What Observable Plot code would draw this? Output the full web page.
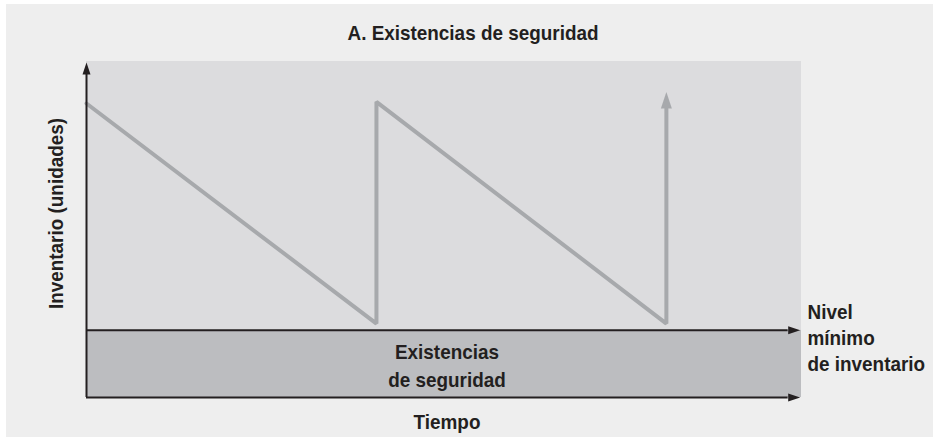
<!DOCTYPE html>
<html><head><meta charset="utf-8">
<script src="https://cdn.jsdelivr.net/npm/d3@7"></script>
<script src="https://cdn.jsdelivr.net/npm/@observablehq/plot@0.6"></script>
<style>
html,body{margin:0;padding:0;background:#fff;}
#bg{position:absolute;left:6px;top:4px;width:927px;height:433px;background:#eeeeee;}
#chart{position:absolute;left:0;top:0;}
</style></head><body><div id="bg"></div><div id="chart"></div>
<script>
// Texts
const title = "A. Existencias de seguridad";
const yLabel = "Inventario (unidades)";
const xLabel = "Tiempo";
const bandLabel = "Existencias\nde seguridad";
const levelLabel = "Nivel\nmínimo\nde inventario";

// Scales (conceptual units)
const timeDomain = [0, 2.466];
const inventoryDomain = [0, 100];
const safetyStock = 20;

// Sawtooth inventory series
const sawTime = [0, 1, 1, 2, 2];
const sawInventory = [87.5, 22, 88, 22, 86];

// Axis extents (arrow bases)
const axisTimeEnd = 2.42;
const axisInventoryEnd = 96.1;

const saw = sawTime.map((t, i) => ({t, v: sawInventory[i]}));
const regions = [
  {x1: timeDomain[0], x2: timeDomain[1], y1: safetyStock, y2: inventoryDomain[1], fill: "#dcdcde"},
  {x1: timeDomain[0], x2: timeDomain[1], y1: 0, y2: safetyStock, fill: "#bcbdc0"}
];
const axisHeads = [
  {t: axisTimeEnd, v: safetyStock, rot: 90},
  {t: axisTimeEnd, v: 0, rot: 90},
  {t: 0, v: axisInventoryEnd, rot: 0}
];
const reorderHead = [{t: sawTime[4], v: sawInventory[4], rot: 0}];

const arrowHead = {
  draw(ctx, size) {
    const k = Math.sqrt(size / Math.PI);
    ctx.moveTo(0, -3 * k);
    ctx.lineTo(k, 0);
    ctx.lineTo(-k, 0);
    ctx.closePath();
  }
};

const ink = "#231f20";
const font = {fontSize: 21, fontWeight: "bold", fill: ink};

const chart = Plot.plot({
  width: 933, height: 437,
  marginLeft: 86, marginRight: 132, marginTop: 61, marginBottom: 40,
  x: {domain: timeDomain, axis: null},
  y: {domain: inventoryDomain, axis: null},
  style: {background: "transparent", fontFamily: "'Liberation Sans', Arial, sans-serif", overflow: "visible"},
  marks: [
    Plot.rect(regions, {x1: "x1", x2: "x2", y1: "y1", y2: "y2", fill: d => d.fill}),
    Plot.line(saw, {x: "t", y: "v", stroke: "#a7a9ac", strokeWidth: 4, strokeLinejoin: "miter"}),
    Plot.dot(reorderHead, {x: "t", y: "v", rotate: "rot", symbol: arrowHead, r: 5.5, fill: "#a7a9ac", stroke: "none"}),
    Plot.ruleY([safetyStock, 0], {x1: () => 0, x2: () => axisTimeEnd, stroke: ink, strokeWidth: 2}),
    Plot.ruleX([0], {y1: () => 0, y2: () => axisInventoryEnd, stroke: ink, strokeWidth: 2}),
    Plot.dot(axisHeads, {x: "t", y: "v", rotate: "rot", symbol: arrowHead, r: 4, fill: ink, stroke: "none"}),
    Plot.text([title], {text: d => d, frameAnchor: "top", lineAnchor: "middle", dx: 29, dy: -28, ...font}),
    Plot.text([yLabel], {text: d => d, frameAnchor: "left", textAnchor: "middle", lineAnchor: "middle", rotate: -90, dx: -30, dy: -16, ...font}),
    Plot.text([xLabel], {text: d => d, frameAnchor: "bottom", lineAnchor: "middle", dx: 3, dy: 25, ...font}),
    Plot.text([bandLabel], {text: d => d, frameAnchor: "bottom", lineAnchor: "middle", lineHeight: 1.333, dx: 3, dy: -33, ...font}),
    Plot.text([levelLabel], {text: d => d, frameAnchor: "bottom-right", textAnchor: "start", lineAnchor: "middle", lineHeight: 1.238, dx: 6, dy: -61, ...font})
  ]
});
document.getElementById("chart").appendChild(chart);

// Condensed look: compress glyphs horizontally
const squeeze = 0.9;
chart.querySelectorAll("text").forEach(t => {
  const spans = t.querySelectorAll("tspan");
  const targets = spans.length ? Array.from(spans) : [t];
  targets.forEach(el => {
    const len = el.getComputedTextLength();
    el.setAttribute("textLength", (len * squeeze).toFixed(1));
    el.setAttribute("lengthAdjust", "spacingAndGlyphs");
  });
});
</script>
</body></html>
